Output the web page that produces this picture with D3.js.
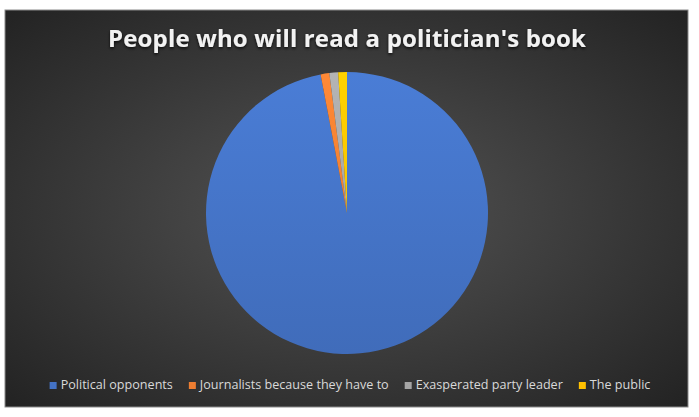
<!DOCTYPE html>
<html>
<head>
<meta charset="utf-8">
<script src="https://cdn.jsdelivr.net/npm/d3@7"></script>
<style>
  body { margin: 0; background: #fff; }
  svg { display: block; }
</style>
</head>
<body>
<svg id="chart" width="699" height="417"></svg>
<script>
const title = "People who will read a politician's book";
const categories = ["Political opponents", "Journalists because they have to", "Exasperated party leader", "The public"];
const values = [97, 1, 1, 1];
const colors = ["#4472C4", "#ED7D31", "#A5A5A5", "#FFC000"];

const svg = d3.select("#chart");
const defs = svg.append("defs");

const frame = { x: 5, y: 10, w: 683, h: 397 };

// dark radial background
const bg = defs.append("radialGradient").attr("id", "bg")
    .attr("cx", "50%").attr("cy", "50%").attr("r", "70%");
bg.append("stop").attr("offset", "0%").attr("stop-color", "#545454");
bg.append("stop").attr("offset", "100%").attr("stop-color", "#232323");

const shadow = defs.append("filter").attr("id", "shadow")
    .attr("x", "-10%").attr("y", "-30%").attr("width", "120%").attr("height", "160%");
shadow.append("feDropShadow").attr("dx", 0).attr("dy", 1.5)
    .attr("stdDeviation", 1.5).attr("flood-color", "#000").attr("flood-opacity", 0.8);

svg.append("rect")
    .attr("x", frame.x).attr("y", frame.y)
    .attr("width", frame.w).attr("height", frame.h)
    .attr("fill", "url(#bg)")
    .attr("stroke", "#8a8a8a").attr("stroke-width", 1);

// title: 24px, spread out to the reference span
const titleText = svg.append("text")
    .attr("x", 347).attr("y", 47)
    .attr("text-anchor", "middle")
    .attr("fill", "#f2f2f2")
    .attr("font-family", "'Open Sans', sans-serif")
    .attr("font-weight", "bold")
    .attr("font-size", 24)
    .attr("filter", "url(#shadow)")
    .text(title);
const tw = titleText.node().getComputedTextLength();
const spacing = Math.max(0, (478 - tw) / (title.length - 1));
titleText.attr("letter-spacing", spacing)
    .attr("x", 347 + spacing / 2);

// pie
const cx = 347, cy = 213, radius = 141;
const pie = d3.pie().sort(null).value(d => d);
const arc = d3.arc().innerRadius(0).outerRadius(radius);

colors.forEach(function (c, i) {
    const g = defs.append("linearGradient").attr("id", "sl" + i)
        .attr("gradientUnits", "userSpaceOnUse")
        .attr("x1", 0).attr("y1", -radius).attr("x2", 0).attr("y2", radius);
    g.append("stop").attr("offset", "0%").attr("stop-color", d3.color(c).brighter(0.25));
    g.append("stop").attr("offset", "100%").attr("stop-color", d3.color(c).darker(0.15));
});

svg.append("g")
    .attr("transform", `translate(${cx},${cy})`)
    .selectAll("path")
    .data(pie(values))
    .enter()
    .append("path")
    .attr("d", arc)
    .attr("fill", (d, i) => `url(#sl${i})`);

// legend
const legend = svg.append("g").attr("font-family", "'Open Sans', sans-serif")
    .attr("font-size", 12.6);
const items = legend.selectAll("g.item")
    .data(categories)
    .enter()
    .append("g")
    .attr("class", "item");
items.append("rect")
    .attr("width", 7).attr("height", 7)
    .attr("y", -7)
    .attr("fill", (d, i) => colors[i]);
items.append("text")
    .attr("x", 11)
    .attr("fill", "#d9d9d9")
    .text(d => d);

const gap = 16;
const widths = [];
items.each(function () {
    widths.push(11 + d3.select(this).select("text").node().getComputedTextLength());
});
const total = d3.sum(widths) + gap * (widths.length - 1);
let lx = 350 - total / 2;
items.attr("transform", function (d, i) {
    const t = `translate(${lx},389)`;
    lx += widths[i] + gap;
    return t;
});
</script>
</body>
</html>
